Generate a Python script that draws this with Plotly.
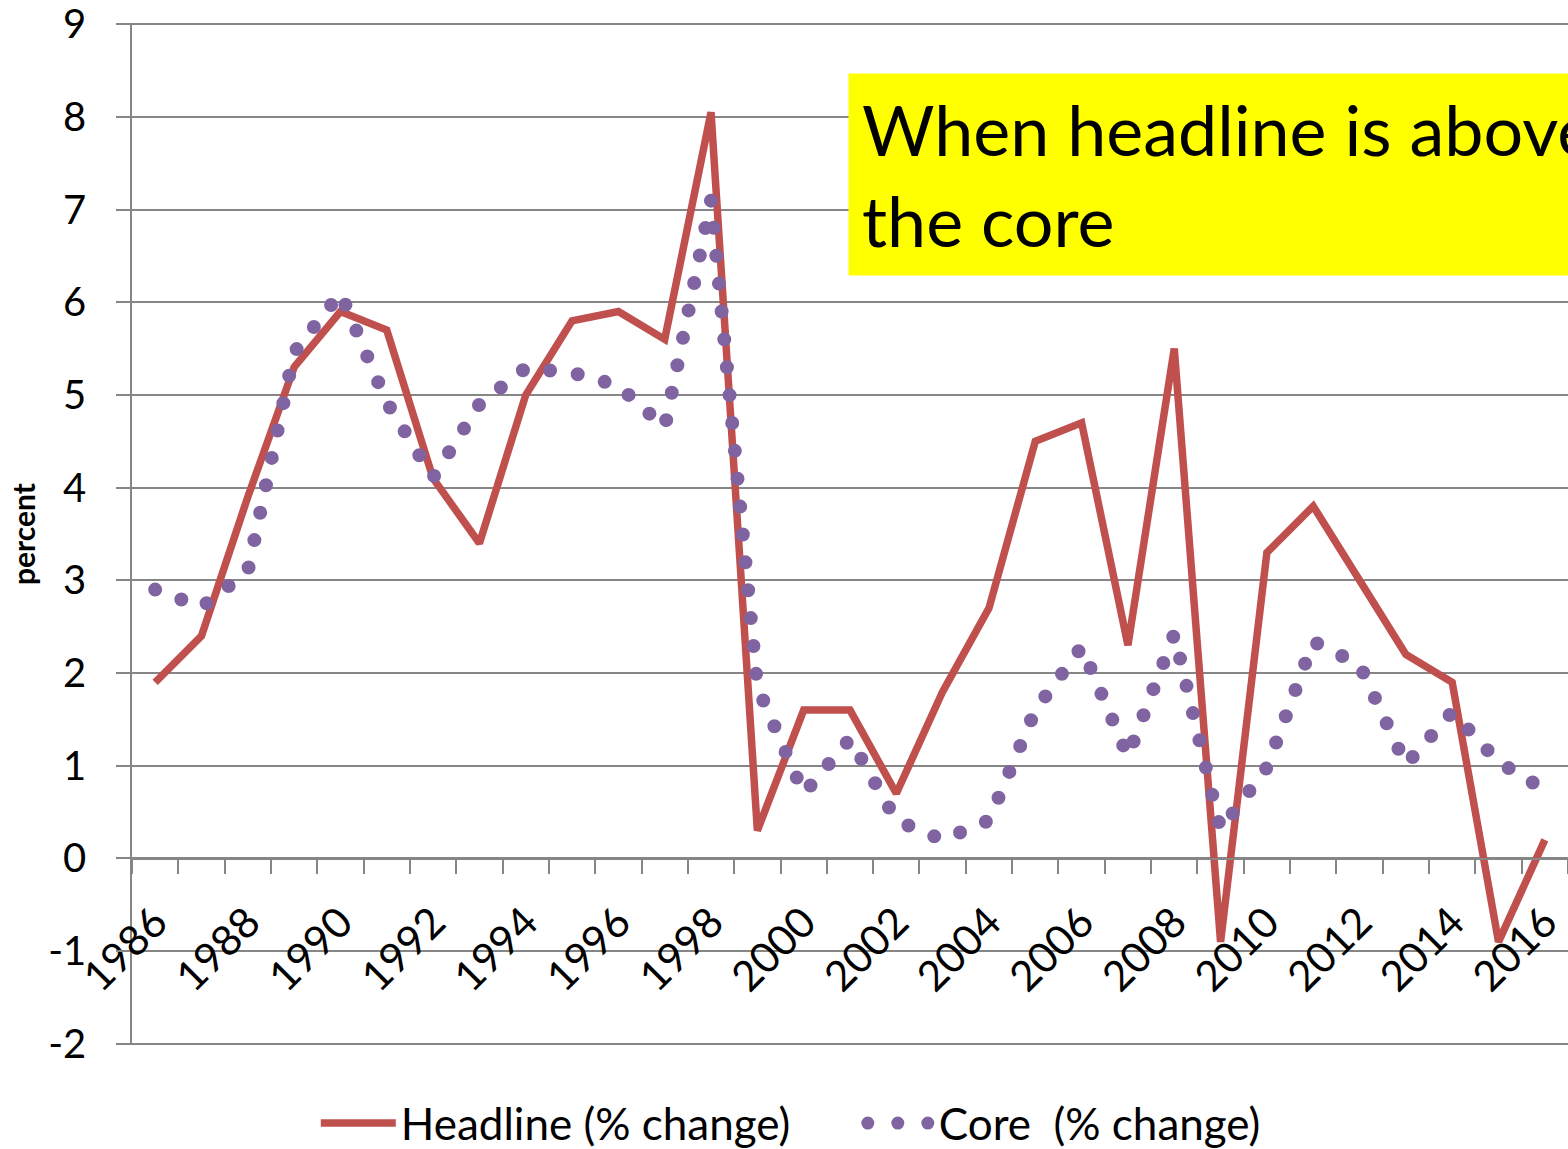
import plotly.graph_objects as go

# Annual inflation, percent change
years = list(range(1986, 2017))
headline = [1.9, 2.4, 3.9, 5.3, 5.9, 5.7, 4.1, 3.4, 5.0, 5.8, 5.9, 5.6, 8.05, 0.3,
            1.6, 1.6, 0.7, 1.8, 2.7, 4.5, 4.7, 2.3, 5.5, -0.9, 3.3, 3.8, 3.0, 2.2,
            1.9, -0.9, 0.2]
core = [2.90, 2.71, 3.10, 5.46, 6.10, 4.92, 4.11, 4.90, 5.29, 5.24, 5.10, 4.65,
        7.10, 1.85, 0.70, 1.29, 0.41, 0.20, 0.41, 1.60, 2.28, 1.10, 2.42, 0.31,
        0.98, 2.34, 2.09, 1.01, 1.58, 1.04, 0.74]
label_years = years[::2]
label_text = [str(y) for y in label_years]
y_ticks = list(range(-2, 10))
y_text = [str(v) for v in y_ticks]

RED = "#C0504D"
PURPLE = "#8064A2"
GRID = "#868686"
FONT = "Lato, 'Open Sans', sans-serif"

W, H = 1568, 1149
TOP = 23                      # top of the value axis (9)
PLOT_BOTTOM = 1045            # bottom of the value axis (-2)
ZERO_Y = 859                  # pixel row of the category axis (value 0)
paper_h = H - TOP
y_dom0 = (H - PLOT_BOTTOM) / paper_h

fig = go.Figure()
fig.add_trace(go.Scatter(x=years, y=headline, mode="lines", name="Headline (% change)",
                         line=dict(color=RED, width=7.5)))
fig.add_trace(go.Scatter(x=years, y=core, mode="lines", name="Core  (% change)",
                         line=dict(color=PURPLE, width=14, dash="dot")))

fig.add_annotation(xref="paper", yref="paper", x=(848 - 132) / 1436, y=(H - 73) / paper_h,
                   xanchor="left", yanchor="top", align="left",
                   text="When headline is above<br>the core", showarrow=False,
                   bgcolor="#FFFF00", borderpad=13,
                   font=dict(family=FONT, size=70, color="black"))

fig.update_layout(
    width=W, height=H,
    margin=dict(l=132, r=0, t=TOP, b=0),
    paper_bgcolor="white", plot_bgcolor="white",
    font=dict(family=FONT, color="black"),
    showlegend=True,
    legend=dict(orientation="h", x=0.128, xanchor="left",
                y=0, yanchor="bottom",
                font=dict(family=FONT, size=44, color="black"), itemwidth=75,
                entrywidth=448, entrywidthmode="pixels",
                bgcolor="rgba(0,0,0,0)"),
    xaxis=dict(range=[1985.5, 2016.5], anchor="free", position=(H - ZERO_Y) / paper_h,
               automargin=False,
               showline=True, linecolor=GRID, linewidth=1.5,
               showgrid=False, zeroline=False,
               tickmode="array", tickvals=label_years, ticktext=label_text,
               tickangle=-45, ticks="", tickfont=dict(family=FONT, size=42),
               ticklabelstandoff=21,
               minor=dict(tickmode="linear", tick0=1985.5, dtick=1, ticks="outside",
                          ticklen=14, tickcolor=GRID, tickwidth=1.5, showgrid=False)),
    yaxis=dict(domain=[y_dom0, 1], range=[-2.013, 9.013], automargin=False,
               tickmode="array",
               tickvals=y_ticks, ticktext=y_text, showgrid=True, gridcolor=GRID,
               gridwidth=1.5, showline=True, linecolor=GRID, linewidth=1.5,
               zeroline=False, ticks="outside", ticklen=14, tickcolor=GRID,
               tickwidth=1.5, tickfont=dict(family=FONT, size=40),
               ticklabelstandoff=22, ticklabeloverflow="allow",
               title=dict(text="<b>percent</b>", font=dict(family=FONT, size=30),
                          standoff=4)),
)

# Round dots for the core series (line and legend sample); legend nudged down a little
css = ('path.js-line[style*="128, 100, 162"]{stroke-linecap:round !important;'
       'stroke-dasharray:0px 28px !important;}'
       '.legend path.js-line[style*="128, 100, 162"]{stroke-width:13px !important;'
       'stroke-dasharray:0px 30px !important;stroke-dashoffset:-9px !important;}')
post = ("var s=document.createElement('style');s.textContent='%s';"
        "document.head.appendChild(s);"
        "try{var lg=document.querySelector('g.legend');"
        "var m=/translate\\(([-\\d.]+)[ ,]+([-\\d.]+)\\)/.exec(lg.getAttribute('transform'));"
        "if(m){lg.setAttribute('transform','translate('+m[1]+','+(parseFloat(m[2])+10)+')');}"
        "}catch(e){}" % css)

fig.write_html("out.html", post_script=post)
